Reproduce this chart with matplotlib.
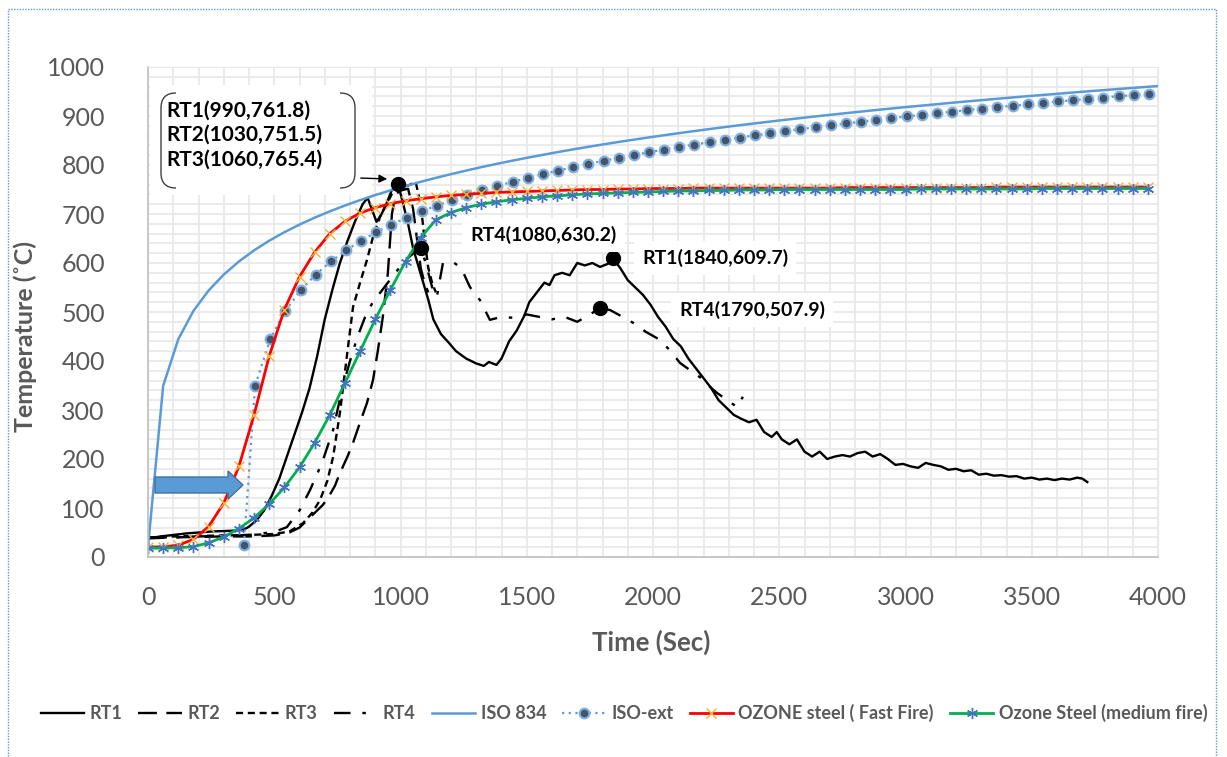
import numpy as np
import matplotlib
matplotlib.use("Agg")
import matplotlib.pyplot as plt
from matplotlib.patches import Rectangle, Polygon, PathPatch
from matplotlib.path import Path
from matplotlib.ticker import MultipleLocator

W, H = 1227, 757
plt.rcParams['font.family'] = ['Lato', 'DejaVu Sans']

# ---------------- measured test temperatures ----------------
rt1_t = [0, 50, 100, 150, 200, 250, 300, 350, 380, 400, 430, 460, 490, 520, 550, 580, 610,
         640, 670, 700, 730, 760, 790, 820, 850, 870, 885, 905, 925, 945, 965, 990, 1010,
         1030, 1050, 1070, 1090, 1110, 1130, 1160, 1190, 1220, 1260, 1300, 1330, 1350, 1380,
         1400, 1430, 1460, 1490, 1510, 1540, 1570, 1590, 1610, 1640, 1670, 1700, 1730, 1760,
         1790, 1820, 1840, 1870, 1900, 1930, 1960, 1990, 2020, 2050, 2080, 2110, 2140, 2170,
         2200, 2230, 2260, 2290, 2320, 2350, 2380, 2410, 2440, 2470, 2490, 2510, 2540, 2570,
         2600, 2630, 2660, 2690, 2720, 2750, 2780, 2810, 2840, 2870, 2900, 2930, 2960, 2990,
         3020, 3050, 3080, 3110, 3140, 3170, 3200, 3230, 3260, 3290, 3320, 3350, 3380, 3410,
         3440, 3470, 3500, 3530, 3560, 3590, 3620, 3650, 3680, 3700, 3720]
rt1_T = [38, 42, 45, 48, 50, 52, 53, 54, 56, 62, 75, 95, 125, 160, 205, 250, 295,
         345, 410, 485, 545, 600, 645, 685, 720, 733, 712, 684, 700, 722, 748, 761.8, 722,
         680, 630, 595, 560, 525, 485, 455, 438, 420, 405, 395, 390, 398, 392,
         405, 440, 462, 492, 520, 540, 560, 555, 575, 580, 575, 600, 595, 600,
         592, 598, 609.7, 590, 565, 550, 535, 515, 490, 470, 445, 430, 405, 385,
         365, 345, 320, 305, 290, 282, 275, 280, 255, 245, 255, 240, 230, 240,
         215, 205, 215, 200, 205, 208, 205, 212, 215, 205, 210, 200, 188, 190,
         185, 182, 192, 188, 185, 178, 180, 175, 177, 168, 170, 166, 167, 164,
         165, 160, 162, 158, 160, 157, 160, 158, 162, 160, 153]

rt2_t = [0, 100, 200, 300, 400, 500, 560, 600, 630, 660, 690, 710, 740, 760, 790, 812, 840,
         867, 891, 910, 930, 950, 966, 980, 1000, 1030, 1050, 1065, 1080, 1095, 1110]
rt2_T = [40, 40, 41, 42, 42, 44, 50, 60, 75, 90, 105, 118, 145, 171, 205, 233, 275,
         314, 361, 420, 490, 580, 700, 740, 748, 751.5, 710, 650, 590, 560, 540]

rt3_t = [0, 100, 200, 300, 400, 500, 560, 614, 650, 681, 710, 733, 760, 775, 790, 812, 840,
         867, 891, 919, 947, 970, 1000, 1030, 1060, 1080, 1095, 1110, 1125, 1140]
rt3_T = [40, 42, 43, 44, 45, 47, 52, 69, 90, 116, 155, 204, 294, 357, 420, 510, 560,
         606, 653, 694, 722, 745, 755, 758, 765.4, 720, 650, 590, 560, 540]

rt4_t = [0, 100, 200, 300, 400, 480, 520, 550, 600, 642, 689, 733, 768, 800, 830, 860, 890,
         919, 950, 980, 1010, 1040, 1080, 1100, 1125, 1144, 1168, 1208, 1240, 1275, 1315,
         1354, 1400, 1450, 1500, 1550, 1600, 1650, 1700, 1750, 1790, 1830, 1880, 1921, 1970,
         2028, 2070, 2107, 2150, 2186, 2220, 2253, 2300, 2333, 2356]
rt4_T = [38, 40, 42, 43, 45, 50, 55, 61, 95, 137, 192, 259, 341, 400, 450, 490, 520,
         539, 560, 580, 600, 615, 630.2, 600, 551, 531, 600, 602, 590, 551, 524,
         484, 490, 488, 495, 490, 485, 490, 480, 495, 507.9, 504, 490, 478, 460,
         443, 420, 396, 380, 367, 350, 335, 318, 306, 327]

# ---------------- standard / design fire curves ----------------
iso_t = list(range(0, 4000, 60)) + [4000]
iso_T = [20.0, 349.2, 444.5, 502.3, 543.9, 576.4, 603.1, 625.8, 645.5, 662.8, 678.4, 692.5,
         705.4, 717.3, 728.3, 738.6, 748.2, 757.2, 765.7, 773.7, 781.3, 788.6, 795.6, 802.2,
         808.5, 814.6, 820.4, 826.1, 831.5, 836.8, 841.8, 846.7, 851.4, 856.0, 860.5, 864.8,
         869.0, 873.1, 877.1, 881.0, 884.7, 888.4, 892.0, 895.5, 899.0, 902.3, 905.6, 908.8,
         912.0, 915.1, 918.1, 921.0, 923.9, 926.8, 929.6, 932.3, 935.0, 937.7, 940.3, 942.8,
         945.3, 947.8, 950.3, 952.6, 955.0, 957.3, 959.6, 961.1]

isoext_t = [380] + list(range(424, 4000, 60))
isoext_T = [25.0, 349.2, 444.5, 502.3, 543.9, 576.4, 603.1, 625.8, 645.5, 662.8, 678.4, 692.5,
            705.4, 717.3, 728.3, 738.6, 748.2, 757.2, 765.7, 773.7, 781.3, 788.6, 795.6, 802.2,
            808.5, 814.6, 820.4, 826.1, 831.5, 836.8, 841.8, 846.7, 851.4, 856.0, 860.5, 864.8,
            869.0, 873.1, 877.1, 881.0, 884.7, 888.4, 892.0, 895.5, 899.0, 902.3, 905.6, 908.8,
            912.0, 915.1, 918.1, 921.0, 923.9, 926.8, 929.6, 932.3, 935.0, 937.7, 940.3, 942.8,
            945.3]

ozone_t = list(range(0, 4000, 60))
ozone_fast_T = [20, 21, 24, 36, 62, 110, 185, 290, 410, 505, 572, 622, 660, 685, 702, 713,
                721, 727, 731, 735, 738, 740, 742, 744, 745, 746, 747, 748, 749, 750, 750, 751,
                751, 752, 752, 752,
                753, 753, 753, 753, 753, 753, 753, 753, 753, 753,
                754, 754, 754, 754, 754, 754, 754, 754, 754, 754,
                755, 755, 755, 755, 755, 755, 755, 755, 755, 755, 755]
ozone_med_T = [18, 18, 19, 21, 29, 41, 58, 80, 108, 142, 183, 233, 290, 355, 420, 485,
               545, 603, 652, 688, 703, 713, 720, 725, 729, 732, 735, 737, 739, 741, 742, 743,
               744, 745, 746, 747, 747, 748, 748, 749, 749, 749, 750,
               750, 750, 750, 750, 750, 750, 750, 750,
               751, 751, 751, 751, 751, 751, 751, 751,
               752, 752, 752, 752, 752, 752, 752, 752]

# labelled points: (series, time, temperature)
peaks_early = [("RT1", 990, 761.8), ("RT2", 1030, 751.5), ("RT3", 1060, 765.4)]
marked = [("RT4", 1080, 630.2), ("RT1", 1840, 609.7), ("RT4", 1790, 507.9)]
dot_points = [peaks_early[0]] + marked

legend_labels = ["RT1", "RT2", "RT3", "RT4", "ISO 834", "ISO-ext",
                 "OZONE steel ( Fast Fire)", "Ozone Steel (medium fire)"]


def px(x, y):
    """pixel position (from top-left) -> figure fraction"""
    return (x / W, 1 - y / H)


fig = plt.figure(figsize=(W / 100, H / 100), dpi=100)
fig.patch.set_facecolor("white")
ax = fig.add_axes([148 / W, 1 - 557 / H, (1158 - 148) / W, (557 - 67) / H])
ax.set_xlim(0, 4000)
ax.set_ylim(0, 1000)
ax.xaxis.set_major_locator(MultipleLocator(500))
ax.xaxis.set_minor_locator(MultipleLocator(100))
ax.yaxis.set_major_locator(MultipleLocator(100))
ax.yaxis.set_minor_locator(MultipleLocator(20))
ax.grid(which="both", color="#E9E9E9", lw=1.3)
ax.set_axisbelow(True)
ax.tick_params(which="both", length=0, labelsize=18, labelcolor="#595959")
ax.tick_params(axis="y", pad=31)
ax.tick_params(axis="x", pad=21)
for s in ["top", "right"]:
    ax.spines[s].set_color("#E9E9E9")
for s in ["left", "bottom"]:
    ax.spines[s].set_color("#BFBFBF")
    ax.spines[s].set_linewidth(1.2)

# white backing of the peak call-out
ax.add_patch(Rectangle(px(150, 195), (372 - 150) / W, (195 - 85) / H,
                       transform=fig.transFigure, facecolor="white",
                       edgecolor="none", zorder=1))

lines = []
lines += ax.plot(rt1_t, rt1_T, color="black", lw=1.7, ls="-")
lines += ax.plot(rt2_t, rt2_T, color="black", lw=1.7, ls=(0, (8, 4)))
lines += ax.plot(rt3_t, rt3_T, color="black", lw=1.7, ls=(0, (3, 2)))
lines += ax.plot(rt4_t, rt4_T, color="black", lw=1.7, ls=(0, (7, 5, 1.5, 5)))
lines += ax.plot(iso_t, iso_T, color="#5B9BD5", lw=1.8)
lines += ax.plot(isoext_t, isoext_T, color="#5B9BD5", lw=1.6, ls=(0, (1, 2)),
                 marker="o", ms=7, mfc="#44546A", mec="#7FB0E0", mew=1.5)
lines += ax.plot(ozone_t, ozone_fast_T, color="#FF0000", lw=2.0,
                 marker="x", ms=7, mec="#F2B33D", mew=1.0)
lines += ax.plot(ozone_t, ozone_med_T, color="#00B050", lw=2.0,
                 marker=(6, 2, 0), ms=8, mec="#4472C4", mew=1.0)

# black dots at the labelled values
ax.plot([p[1] for p in dot_points], [p[2] for p in dot_points], "o",
        color="black", ms=10, zorder=5)

# call-out with the first peaks, framed by a bracket pair
txt = "\n".join(f"{n}({t},{v})" for n, t, v in peaks_early)
fig.text(*px(166, 135), txt, fontsize=15, fontweight="bold", color="black",
         va="center", ha="left", linespacing=1.3, zorder=6)


def bracket(x_edge, x_end):
    verts = [px(x_end, 93), px(x_edge, 93), px(x_edge, 108), px(x_edge, 173),
             px(x_edge, 188), px(x_end, 188)]
    codes = [Path.MOVETO, Path.CURVE3, Path.CURVE3, Path.LINETO, Path.CURVE3, Path.CURVE3]
    return PathPatch(Path(verts, codes), transform=fig.transFigure, fill=False,
                     edgecolor="#404040", lw=1.0, zorder=6, clip_on=False)


ax.add_patch(bracket(161, 176))
ax.add_patch(bracket(355, 340))
ax.annotate("", xy=px(390, 179), xycoords="figure fraction",
            xytext=px(358, 178), textcoords="figure fraction",
            arrowprops=dict(arrowstyle="-|>", color="black", lw=1.0, mutation_scale=12),
            zorder=6)

# single-value labels on white boxes
label_pos = [(470, 235), (642, 258), (679, 310)]
for (n, t, v), (lx, ly) in zip(marked, label_pos):
    fig.text(*px(lx, ly), f"{n}({t},{v})", fontsize=14, fontweight="bold",
             color="black", va="center", ha="left", zorder=6,
             bbox=dict(facecolor="white", edgecolor="none", pad=6))

# blue block arrow pointing at the start of ISO-ext
arrow_px = [(155, 477), (228, 477), (228, 471), (243, 485), (228, 499), (228, 493), (155, 493)]
ax.add_patch(Polygon([px(*p) for p in arrow_px], closed=True, transform=fig.transFigure,
                     facecolor="#5B9BD5", edgecolor="#41719C", lw=1.0, zorder=6))

ax.set_ylabel("Temperature (˚C)", fontsize=18, fontweight="bold", color="#595959")
ax.yaxis.set_label_coords(-0.11, 0.45)
ax.set_xlabel("Time (Sec)", fontsize=18.5, fontweight="bold", color="#595959")
ax.xaxis.set_label_coords(0.498, -0.148)

leg = fig.legend(lines, legend_labels, loc="center", bbox_to_anchor=px(624, 713),
                 ncol=8, frameon=False, handlelength=2.4, handletextpad=0.3,
                 columnspacing=0.9, numpoints=1,
                 prop=dict(size=13, weight="bold"))
for t in leg.get_texts():
    t.set_color("#595959")

# dotted outer frame
fig.patches.append(Rectangle(px(8, 760), (1216 - 8) / W, (760 - 9) / H,
                             transform=fig.transFigure, fill=False,
                             edgecolor="#5B9BD5", lw=1.0, ls=(0, (1, 1))))

fig.savefig("out.png", dpi=100)
